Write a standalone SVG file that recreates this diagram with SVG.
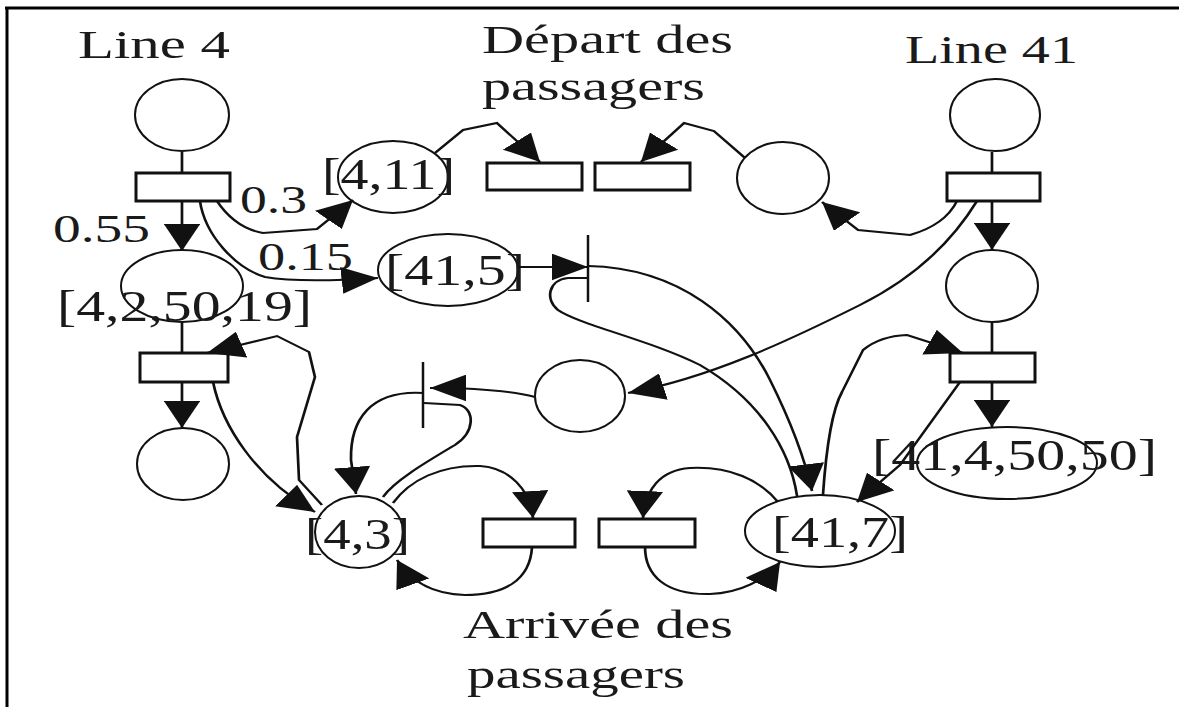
<svg xmlns="http://www.w3.org/2000/svg" width="1179" height="707" viewBox="0 0 1179 707">
<style>
.pl{fill:#fff;stroke:#111;stroke-width:2}
.tr{fill:#fff;stroke:#111;stroke-width:3}
.bar{stroke:#111;stroke-width:2.5}
.t{font-family:"Liberation Serif","Times New Roman",serif;fill:#1a1a1a}
.c{fill:none;stroke:#111;stroke-width:2}
.a{marker-end:url(#ah)}
</style>
<defs>
<marker id="ah" markerUnits="userSpaceOnUse" markerWidth="27" markerHeight="27" refX="27" refY="13.5" orient="auto" viewBox="0 0 27 27"><path d="M0,0 L27,13.5 L0,27 Z" fill="#111"/></marker>
</defs>
<rect width="1179" height="707" fill="#fff"/>
<g id="frame" stroke="#000" stroke-width="3"><line x1="5" y1="8" x2="1179" y2="8"/><line x1="7" y1="7" x2="7" y2="707"/></g>

<g id="titles" class="t">
<text x="78" y="58" font-size="41" textLength="152" lengthAdjust="spacingAndGlyphs">Line 4</text>
<text x="482" y="53" font-size="41" textLength="251" lengthAdjust="spacingAndGlyphs">Départ des</text>
<text x="482" y="100" font-size="41" textLength="223" lengthAdjust="spacingAndGlyphs">passagers</text>
<text x="905" y="63" font-size="41" textLength="173" lengthAdjust="spacingAndGlyphs">Line 41</text>
<text x="463" y="638" font-size="41" textLength="270" lengthAdjust="spacingAndGlyphs">Arrivée des</text>
<text x="467" y="688" font-size="41" textLength="218" lengthAdjust="spacingAndGlyphs">passagers</text>
<text x="53" y="242" font-size="40" textLength="97" lengthAdjust="spacingAndGlyphs">0.55</text>
<text x="240" y="213" font-size="40" textLength="67" lengthAdjust="spacingAndGlyphs">0.3</text>
<text x="258" y="270" font-size="40" textLength="95" lengthAdjust="spacingAndGlyphs">0.15</text>
</g>

<g id="p1"><ellipse class="pl" cx="182" cy="115" rx="47" ry="36"/></g>
<g id="t1"><rect class="tr" x="136" y="173" width="94" height="28"/></g>
<g id="p2"><ellipse class="pl" cx="182" cy="286" rx="61" ry="36"/><text class="t" x="57" y="321" font-size="44" textLength="255" lengthAdjust="spacingAndGlyphs">[4,2,50,19]</text></g>
<g id="t2"><rect class="tr" x="140" y="353" width="88" height="29"/></g>
<g id="p3"><ellipse class="pl" cx="183" cy="464" rx="46" ry="36"/></g>
<g id="p7"><ellipse class="pl" cx="393" cy="177" rx="55" ry="36"/><text class="t" x="322" y="189" font-size="44" textLength="133" lengthAdjust="spacingAndGlyphs">[4,11]</text></g>
<g id="r1"><rect class="tr" x="487" y="163" width="95" height="27"/></g>
<g id="r2"><rect class="tr" x="595" y="163" width="95" height="27"/></g>
<g id="p6"><ellipse class="pl" cx="783" cy="178" rx="46" ry="36"/></g>
<g id="p10"><ellipse class="pl" cx="995" cy="115" rx="45" ry="36"/></g>
<g id="t41"><rect class="tr" x="947" y="173" width="93" height="28"/></g>
<g id="p9"><ellipse class="pl" cx="992" cy="286" rx="46" ry="36"/></g>
<g id="t41b"><rect class="tr" x="950" y="353" width="85" height="29"/></g>
<g id="p11"><ellipse class="pl" cx="1007" cy="463" rx="90" ry="36"/><text class="t" x="872" y="470" font-size="44" textLength="285" lengthAdjust="spacingAndGlyphs">[41,4,50,50]</text></g>
<g id="p8"><ellipse class="pl" cx="448" cy="270" rx="70" ry="36"/><text class="t" x="385" y="285" font-size="44" textLength="140" lengthAdjust="spacingAndGlyphs">[41,5]</text></g>
<g id="b1"><line class="bar" x1="588" y1="235" x2="588" y2="302"/></g>
<g id="b2"><line class="bar" x1="423" y1="362" x2="423" y2="428"/></g>
<g id="p5"><ellipse class="pl" cx="580" cy="396" rx="45" ry="36"/></g>
<g id="p4"><ellipse class="pl" cx="359" cy="532" rx="44" ry="36"/><text class="t" x="305" y="549" font-size="44" textLength="105" lengthAdjust="spacingAndGlyphs">[4,3]</text></g>
<g id="r3"><rect class="tr" x="483" y="519" width="92" height="28"/></g>
<g id="r4"><rect class="tr" x="599" y="519" width="96" height="28"/></g>
<g id="p12"><ellipse class="pl" cx="820" cy="531" rx="75" ry="36"/><text class="t" x="772" y="547" font-size="44" textLength="136" lengthAdjust="spacingAndGlyphs">[41,7]</text></g>

<g id="connectors" transform="scale(1.35,1)">
<path class="c" d="M134.8,152 L134.8,173"/>
<path class="c a" d="M134.8,201 L134.8,251"/>
<path class="c a" d="M160.7,201 Q174.1,228 194.8,233 L234.8,229 L261.5,200"/>
<path class="c a" d="M148.1,201 C151.9,235 174.1,268 196.3,277 Q222.2,283 280,278"/>
<path class="c" d="M134.8,322 L134.8,353"/>
<path class="c a" d="M134.8,382 L134.8,428"/>
<path class="c a" d="M238.5,505 L221.5,480 L220,437 L233.3,377 L228.9,352 L205.2,336 L153.3,353"/>
<path class="c a" d="M157.8,382 C164.4,425 188.9,478 233.3,512"/>
<path class="c a" d="M313.3,393 C274.1,390 259.3,420 260,460 L263.7,494"/>
<path class="c" d="M283.7,497 C292.6,480 318.5,460 337,445 C351.9,432 351.9,410 340.7,405 L314.1,403"/>
<path class="c a" d="M396.3,397 Q370.4,388 318.5,388"/>
<path class="c a" d="M723.7,201 C703.7,245 674.1,280 637,305 C585.2,340 525.9,378 465.2,393"/>
<path class="c a" d="M708.9,201 Q700,225 674.1,235 L635.6,230 L608.9,202"/>
<path class="c a" d="M551.9,158 L528.9,131 L506.7,123 L474.8,162"/>
<path class="c a" d="M322.2,153 L343,130 L368.1,123 L400,162"/>
<path class="c a" d="M383.7,267 L435.6,267"/>
<path class="c a" d="M435.6,266 C503.7,268 548.1,320 570.4,380 C585.2,420 596.3,460 601.5,491"/>
<path class="c" d="M590.4,496 C585.2,450 563,400 518.5,365 C481.5,340 429.6,325 413.3,310 C403.7,300 405.9,280 420.7,278 L435.6,278"/>
<path class="c a" d="M609.6,495 C611.9,450 616.3,410 623.7,392 L639.3,350 Q651.9,336 671.9,335 L713.3,353"/>
<path class="c a" d="M711.1,382 L666.7,465 L634.8,502"/>
<path class="c a" d="M734.8,201 L734.8,250"/>
<path class="c" d="M734.8,152 L734.8,173"/>
<path class="c" d="M734.8,322 L734.8,353"/>
<path class="c a" d="M734.8,382 L734.8,427"/>
<path class="c a" d="M291.1,503 C303.7,480 325.9,465 355.6,466 C377.8,468 392.6,490 394.8,518"/>
<path class="c a" d="M394.1,547 C392.6,580 374.1,595 344.4,595 C318.5,594 303.7,580 294.1,560"/>
<path class="c a" d="M576.3,502 C563,480 540.7,466 511.1,468 C488.9,470 477.8,490 476.3,518"/>
<path class="c a" d="M477.8,547 C477.8,575 492.6,595 525.9,594 C548.1,593 566.7,580 577.8,562"/>
</g>
</svg>
